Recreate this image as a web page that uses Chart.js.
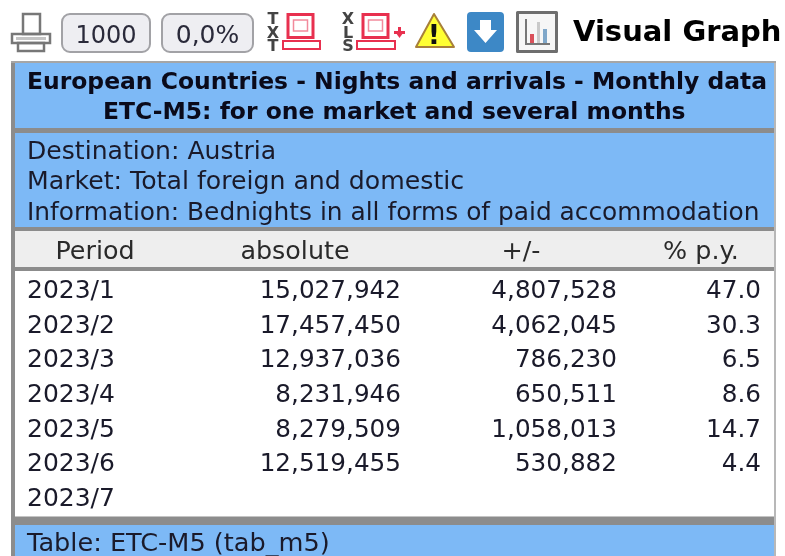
<!DOCTYPE html>
<html>
<head>
<meta charset="utf-8">
<title>ETC-M5</title>
<script src="https://cdn.jsdelivr.net/npm/chart.js@4"></script>
<style>
html,body{margin:0;padding:0;background:#fff}
canvas{display:block;filter:blur(0.45px)}
</style>
</head>
<body>
<canvas id="myChart" width="785" height="556"></canvas>
<script>
const periods = ['2023/1','2023/2','2023/3','2023/4','2023/5','2023/6','2023/7']
const absolute = ['15,027,942','17,457,450','12,937,036','8,231,946','8,279,509','12,519,455',null]
const change = ['4,807,528','4,062,045','786,230','650,511','1,058,013','530,882',null]
const pctPy = ['47.0','30.3','6.5','8.6','14.7','4.4',null]
const columnTitles = ['Period','absolute','+/-','% p.y.']
const titleLines = ['European Countries - Nights and arrivals - Monthly data','ETC-M5: for one market and several months']
const infoLines = ['Destination: Austria','Market: Total foreign and domestic','Information: Bednights in all forms of paid accommodation']
const footerText = 'Table: ETC-M5 (tab_m5)'
const toolbarButtons = ['1000','0,0%']
const brandText = 'Visual Graph'

const FONT = '"DejaVu Sans", sans-serif'
const INK = '#1a1a2a'
const BLUE = '#7db9f6'
const GREY = '#8c8c8c'
const RED = '#e8304f'

function box(ctx, x, y, w, h, color){
    ctx.fillStyle = color
    ctx.fillRect(x, y, w, h)
}

function text(ctx, str, x, y, font, align, color){
    ctx.font = font
    ctx.textAlign = align || 'left'
    ctx.textBaseline = 'alphabetic'
    ctx.fillStyle = color || INK
    ctx.fillText(str, x, y)
}

function outline(ctx, x, y, w, h, color, lw){
    ctx.strokeStyle = color
    ctx.lineWidth = lw
    ctx.strokeRect(x, y, w, h)
}

function drawPrinter(ctx){
    outline(ctx, 23, 14, 17, 20, '#777', 2.5)
    outline(ctx, 12, 34, 38, 9, '#777', 2.5)
    box(ctx, 16, 37, 30, 3, '#c4c4c4')
    outline(ctx, 18, 43, 26, 8, '#777', 2.5)
}

function drawButton(ctx, x, w, label, size){
    ctx.beginPath()
    ctx.roundRect(x, 14, w, 38, 8)
    ctx.fillStyle = '#eeeef2'
    ctx.fill()
    ctx.strokeStyle = '#a2a2a6'
    ctx.lineWidth = 2
    ctx.stroke()
    text(ctx, label, x + w / 2, 43, size + 'px ' + FONT, 'center', '#2a2a3a')
}

function drawScreen(ctx, sx, bx, bw){
    outline(ctx, sx, 14.5, 25, 23, RED, 3)
    outline(ctx, sx + 5.5, 20, 14, 11, '#f28a9c', 1.5)
    outline(ctx, bx, 41, bw, 8, RED, 2)
}

function drawLetters(ctx, letters, x){
    letters.forEach((l, i) => text(ctx, l, x, 24 + i * 13.5, 'bold 16px ' + FONT, 'center', '#444'))
}

function drawWarning(ctx){
    ctx.beginPath()
    ctx.moveTo(434, 14)
    ctx.lineTo(454, 47)
    ctx.lineTo(416, 47)
    ctx.closePath()
    ctx.fillStyle = '#ffff33'
    ctx.fill()
    ctx.strokeStyle = '#a8803a'
    ctx.lineWidth = 2
    ctx.lineJoin = 'round'
    ctx.stroke()
    text(ctx, '!', 434, 44, 'bold 27px ' + FONT, 'center', '#111')
}

function drawDownload(ctx){
    ctx.beginPath()
    ctx.roundRect(467, 12, 37, 40, 4)
    ctx.fillStyle = '#3d88c6'
    ctx.fill()
    ctx.fillStyle = '#fff'
    ctx.beginPath()
    ctx.moveTo(480, 20)
    ctx.lineTo(491, 20)
    ctx.lineTo(491, 30)
    ctx.lineTo(497, 30)
    ctx.lineTo(485.5, 43)
    ctx.lineTo(474, 30)
    ctx.lineTo(480, 30)
    ctx.closePath()
    ctx.fill()
}

function drawGraphIcon(ctx){
    box(ctx, 517, 12, 40, 40, '#f6f6f6')
    outline(ctx, 517.5, 12.5, 39, 39, '#6e6e6e', 3)
    box(ctx, 525, 19, 2, 25, '#777')
    box(ctx, 525, 43, 25, 2, '#777')
    box(ctx, 530, 34, 4, 9, '#d9505a')
    box(ctx, 537, 22, 3, 21, '#c9c9c9')
    box(ctx, 543, 29, 4, 14, '#7fa7c9')
}

function drawToolbar(ctx){
    drawPrinter(ctx)
    drawButton(ctx, 62, 88, toolbarButtons[0], 24)
    drawButton(ctx, 162, 91, toolbarButtons[1], 25)
    drawLetters(ctx, ['T','X','T'], 273)
    drawScreen(ctx, 288, 283, 37)
    drawLetters(ctx, ['X','L','S'], 348)
    drawScreen(ctx, 363, 357, 38)
    box(ctx, 394, 31, 11, 3, RED)
    ctx.fillStyle = RED
    ctx.beginPath()
    ctx.moveTo(396, 33)
    ctx.lineTo(403, 33)
    ctx.lineTo(399.5, 38)
    ctx.closePath()
    ctx.fill()
    box(ctx, 398, 27, 3, 5, RED)
    drawWarning(ctx)
    drawDownload(ctx)
    drawGraphIcon(ctx)
    text(ctx, brandText, 573, 41, 'bold 29px ' + FONT, 'left', '#000')
}

function drawFrame(ctx){
    box(ctx, 11, 61, 765, 495, GREY)
    box(ctx, 11, 61, 765, 2, '#a6a6a6')
    box(ctx, 15, 63, 759, 65, BLUE)
    box(ctx, 15, 133, 759, 94, BLUE)
    box(ctx, 15, 231, 759, 36, '#eeeeee')
    box(ctx, 15, 271, 759, 245, '#ffffff')
    box(ctx, 15, 516, 759, 1, '#c4c4c4')
    box(ctx, 15, 525, 759, 31, BLUE)
    box(ctx, 774, 63, 2, 493, '#b8b8b8')
}

function drawHeadings(ctx){
    text(ctx, titleLines[0], 27, 89, 'bold 23.45px ' + FONT, 'left', '#0a0a1a')
    text(ctx, titleLines[1], 103, 118.5, 'bold 23.45px ' + FONT, 'left', '#0a0a1a')
    const infoSizes = [25.1, 25.2, 24.85]
    infoLines.forEach((t, i) => text(ctx, t, 27, 159 + i * 30.3, infoSizes[i] + 'px ' + FONT))
    const centers = [95, 295, 521, 701]
    columnTitles.forEach((t, i) => text(ctx, t, centers[i], 259, '25.4px ' + FONT, 'center', '#2a2a2a'))
    text(ctx, footerText, 27, 551, '25.6px ' + FONT)
}

const tablePlugin = {
    id: 'tablePlugin',
    beforeDraw(chart){
        const ctx = chart.ctx
        ctx.save()
        box(ctx, 0, 0, chart.width, chart.height, '#fff')
        drawToolbar(ctx)
        drawFrame(ctx)
        drawHeadings(ctx)
        ctx.restore()
    },
    afterDatasetsDraw(chart){
        const ctx = chart.ctx
        ctx.save()
        chart.data.datasets.forEach((ds, d) => {
            chart.getDatasetMeta(d).data.forEach((el, i) => {
                if (ds.cells[i] === null) return
                text(ctx, ds.cells[i], el.x, el.y + 9, '24.7px ' + FONT, 'right', INK)
            })
        })
        ctx.restore()
    }
}

function column(label, cells, right){
    return {
        label: label,
        cells: cells,
        pointRadius: 0,
        showLine: false,
        data: periods.map(p => ({x: right, y: p}))
    }
}

var myChart = new Chart(document.getElementById('myChart'), {
    type: 'scatter',
    data: {
        datasets: [
            column('absolute', absolute, 401),
            column('+/-', change, 617),
            column('% p.y.', pctPy, 761)
        ]
    },
    plugins: [tablePlugin],
    options: {
        responsive: false,
        animation: false,
        layout: {padding: {top: 272, bottom: 39, left: 0, right: 0}},
        plugins: {legend: {display: false}, tooltip: {enabled: false}},
        scales: {
            x: {type: 'linear', min: 0, max: 785, display: false},
            y: {
                type: 'category',
                labels: periods,
                offset: true,
                afterFit: s => { s.width = 0 },
                grid: {display: false, drawTicks: false},
                border: {display: false},
                ticks: {mirror: true, padding: 27, labelOffset: 2.5, color: INK, font: {family: 'DejaVu Sans', size: 25}}
            }
        }
    }
})
</script>
</body>
</html>
